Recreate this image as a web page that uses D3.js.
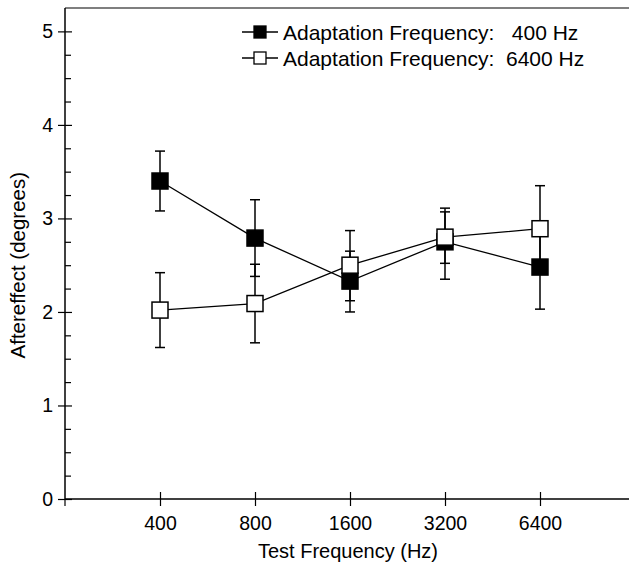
<!DOCTYPE html>
<html>
<head>
<meta charset="utf-8">
<script src="https://cdn.jsdelivr.net/npm/d3@7"></script>
<style>
  body { margin: 0; background: #fff; }
  svg { display: block; font-family: "Liberation Sans", Arial, sans-serif; }
</style>
</head>
<body>
<div class="container"></div>
<script>
const testFreqs = [400, 800, 1600, 3200, 6400];

const adapt400 = [3.40, 2.79, 2.33, 2.75, 2.48];
const adapt400Hi = [3.72, 3.20, 2.65, 3.07, 2.93];
const adapt400Lo = [3.08, 2.38, 2.00, 2.52, 2.03];

const adapt6400 = [2.02, 2.09, 2.50, 2.80, 2.89];
const adapt6400Hi = [2.42, 2.51, 2.87, 3.11, 3.35];
const adapt6400Lo = [1.62, 1.67, 2.12, 2.35, 2.43];

const yTicks = [0, 1, 2, 3, 4, 5];
const legendLabels = ["Adaptation Frequency:   400 Hz", "Adaptation Frequency:  6400 Hz"];

const width = 629;
const height = 565;
const margin = { top: 8, right: 0, bottom: 66, left: 65 };

let svg = d3.select(".container").append("svg")
  .attr("width", width).attr("height", height);

let xScale = d3.scaleLog().base(2)
  .domain([200, 12800])
  .range([margin.left, 635]);

let yScale = d3.scaleLinear()
  .domain([0, 5.25])
  .range([height - margin.bottom, margin.top]);

const y0 = yScale(0);

// top frame line (grey)
svg.append("line")
  .attr("x1", margin.left).attr("x2", width)
  .attr("y1", margin.top).attr("y2", margin.top)
  .attr("stroke", "#555").attr("stroke-width", 1.5);

// Y axis: major ticks cross the line, minor ticks inside
let yAxis = d3.axisLeft(yScale).tickValues(yTicks).tickSize(7).tickPadding(5)
  .tickFormat(d3.format("d"));
let gy = svg.append("g").attr("transform", `translate(${margin.left},0)`).call(yAxis);
gy.select(".domain").remove();
gy.selectAll(".tick line").attr("x2", -7).attr("x1", 7);

let yMinor = d3.axisRight(yScale)
  .tickValues(d3.range(0.25, 5.25, 0.25).filter((d) => d % 1 !== 0))
  .tickSize(6).tickFormat("");
let gym = svg.append("g").attr("transform", `translate(${margin.left},0)`).call(yMinor);
gym.select(".domain").remove();

svg.append("line")
  .attr("x1", margin.left).attr("x2", margin.left)
  .attr("y1", margin.top).attr("y2", y0)
  .attr("stroke", "#000").attr("stroke-width", 1.5);

// X axis
let xAxis = d3.axisBottom(xScale).tickValues(testFreqs).tickSize(7).tickPadding(10)
  .tickFormat(d3.format("d"));
let gx = svg.append("g").attr("transform", `translate(0,${y0})`).call(xAxis);
gx.select(".domain").remove();
gx.selectAll(".tick line").attr("y1", -7);

svg.append("line")
  .attr("x1", margin.left).attr("x2", margin.left)
  .attr("y1", y0).attr("y2", y0 + 7)
  .attr("stroke", "#000").attr("stroke-width", 1.2);

svg.append("line")
  .attr("x1", margin.left).attr("x2", width)
  .attr("y1", y0).attr("y2", y0)
  .attr("stroke", "#000").attr("stroke-width", 1.5);

svg.selectAll(".tick line").attr("stroke", "#000").attr("stroke-width", 1.2);
svg.selectAll(".tick text").attr("font-size", 19.5).attr("fill", "#000")
  .attr("font-family", "Liberation Sans, Arial, sans-serif");

// axis titles
svg.append("text")
  .attr("x", (margin.left + width) / 2 + 1).attr("y", 558)
  .attr("text-anchor", "middle").attr("font-size", 20)
  .text("Test Frequency (Hz)");

svg.append("text")
  .attr("transform", `translate(25,${yScale(2.5)}) rotate(-90)`)
  .attr("text-anchor", "middle").attr("font-size", 20.5)
  .text("Aftereffect (degrees)");

// series
const series = [
  { vals: adapt400, hi: adapt400Hi, lo: adapt400Lo, fill: "#000" },
  { vals: adapt6400, hi: adapt6400Hi, lo: adapt6400Lo, fill: "#fff" }
];

const cap = 5;
let gErr = svg.append("g");
series.forEach((s) => {
  testFreqs.forEach((f, i) => {
    let x = xScale(f);
    gErr.append("line").attr("x1", x).attr("x2", x)
      .attr("y1", yScale(s.hi[i])).attr("y2", yScale(s.lo[i]))
      .attr("stroke", "#000").attr("stroke-width", 1.5);
    [s.hi[i], s.lo[i]].forEach((v) => {
      gErr.append("line").attr("x1", x - cap).attr("x2", x + cap)
        .attr("y1", yScale(v)).attr("y2", yScale(v))
        .attr("stroke", "#000").attr("stroke-width", 1.5);
    });
  });
});

let line = d3.line().x((d, i) => xScale(testFreqs[i])).y((d) => yScale(d));

series.forEach((s) => {
  svg.append("path").attr("d", line(s.vals))
    .attr("fill", "none").attr("stroke", "#000").attr("stroke-width", 1.3);
});

const sq = 16;
series.forEach((s) => {
  svg.append("g").selectAll("rect")
    .data(s.vals).enter().append("rect")
    .attr("x", (d, i) => xScale(testFreqs[i]) - sq / 2)
    .attr("y", (d) => yScale(d) - sq / 2)
    .attr("width", sq).attr("height", sq)
    .attr("fill", s.fill).attr("stroke", "#000").attr("stroke-width", 1.5);
});

// legend
let legend = svg.append("g");
legendLabels.forEach((label, i) => {
  let ly = 32 + i * 26;
  legend.append("line").attr("x1", 242).attr("x2", 278)
    .attr("y1", ly).attr("y2", ly)
    .attr("stroke", "#000").attr("stroke-width", 1.3);
  legend.append("rect").attr("x", 260 - 6).attr("y", ly - 6)
    .attr("width", 12).attr("height", 12)
    .attr("fill", series[i].fill).attr("stroke", "#000").attr("stroke-width", 1.3);
  legend.append("text").attr("x", 283).attr("y", ly + 7.5)
    .attr("font-size", 21).style("white-space", "pre")
    .text(label);
});
</script>
</body>
</html>
